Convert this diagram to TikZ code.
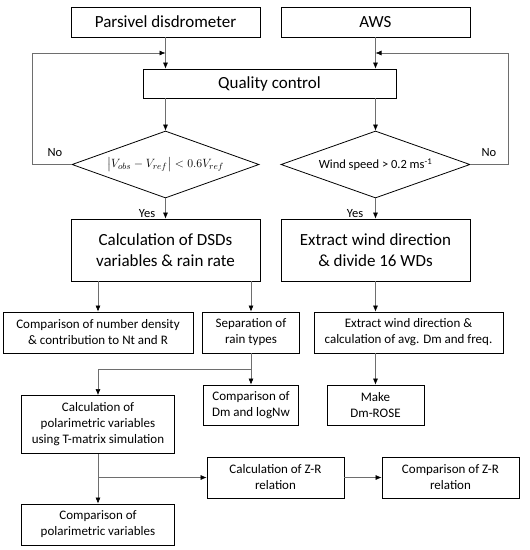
\documentclass[tikz,border=0pt]{standalone}
\usepackage{amsmath}
\usepackage{fontspec}
\setmainfont{Carlito}
\usetikzlibrary{positioning,shapes.geometric,arrows.meta}

\definecolor{linegray}{RGB}{110,110,110}

\tikzset{
	bigbox/.style={draw=black, thick, minimum width=189pt, align=center, inner sep=2pt, font=\fontsize{17}{20.5}\selectfont},
	smallbox/.style={draw=black, thick, minimum height=41pt, align=center, inner sep=3pt, font=\fontsize{13}{16}\selectfont},
	decision/.style={draw=black, thick, shape=diamond, aspect=2.8, minimum width=187pt, minimum height=67pt, inner sep=0pt},
	answer/.style={font=\fontsize{12.5}{15}\selectfont, inner sep=0pt},
	arr/.style={draw=linegray, semithick, -{Latex[black,length=6pt,width=5pt]}},
	line/.style={draw=linegray, semithick}
}

\begin{document}
\begin{tikzpicture}[x=1pt,y=-1pt]
\useasboundingbox (0,0) rectangle (530,550);

\node(pars)	[bigbox, minimum height=30pt] at (165.5,22)	{Parsivel disdrometer};
\node(aws)	[bigbox, minimum height=30pt, right of=pars, node distance=210pt]	{AWS};
\node(qc)	[bigbox, minimum width=253pt, minimum height=29pt] at (269.5,83.5)	{Quality control};

\node(dleft)	[decision, below of=pars, node distance=142.5pt]	{\fontsize{12.5}{15}\selectfont $\left|V_{obs}-V_{ref}\right|<0.6V_{ref}$};
\node(dright)	[decision, minimum width=189pt, below of=aws, node distance=142.5pt]	{\fontsize{12.5}{15}\selectfont Wind speed > 0.2 ms\textsuperscript{-1}};

\node(calc)	[bigbox, minimum height=62pt, below of=dleft, node distance=85.5pt]	{Calculation of DSDs\\variables \& rain rate};
\node(extr)	[bigbox, minimum height=62pt, below of=dright, node distance=85.5pt]	{Extract wind direction\\\& divide 16 WDs};

\node(numd)	[smallbox, minimum width=190pt] at (98,332.5)	{Comparison of number density\\\& contribution to Nt and R};
\node(sep)	[smallbox, minimum width=97pt] at (251,332.5)	{Separation of\\rain types};
\node(extr2)	[smallbox, minimum width=189pt] at (408.5,332.5)	{Extract wind direction \&\\calculation of avg. Dm and freq.};

\node(dm)	[smallbox, minimum width=95pt, minimum height=40pt, below of=sep, node distance=72.5pt]	{Comparison of\\Dm and logNw};
\node(rose)	[smallbox, minimum width=97pt, minimum height=40pt, below of=extr, node distance=155pt]	{Make\\Dm-ROSE};

\node(pol)	[smallbox, minimum width=153pt, minimum height=58pt, below of=numd, node distance=92pt]	{Calculation of\\polarimetric variables\\using T-matrix simulation};
\node(polc)	[smallbox, minimum width=153pt, below of=pol, node distance=100pt]	{Comparison of\\polarimetric variables};

\node(zr)	[smallbox, minimum width=137pt] at (275.5,477.5)	{Calculation of Z-R\\relation};
\node(zrc)	[smallbox, minimum width=137pt, right of=zr, node distance=175pt]	{Comparison of Z-R\\relation};

\node(nol)	[answer] at (55,153)	{No};
\node(nor)	[answer] at (489,153)	{No};
\node(yesl)	[answer] at (147,214)	{Yes};
\node(yesr)	[answer] at (355,214)	{Yes};

% inputs and quality control
\draw [arr] (pars.south) -- (qc.north -| pars.south) coordinate[pos=0.5] (fbl);
\draw [arr] (aws.south) -- (qc.north -| aws.south) coordinate[pos=0.5] (fbr);
\draw [arr] (qc.south -| dleft.north) -- (dleft.north);
\draw [arr] (qc.south -| dright.north) -- (dright.north);

% feedback
\draw [arr] (dleft.west) -- ++(-39,0) |- (fbl);
\draw [arr] (dright.east) -- ++(38,0) |- (fbr);

\draw [arr] (dleft.south) -- (calc.north);
\draw [arr] (dright.south) -- (extr.north);

% DSD branch
\draw [arr] (calc.south -| numd.north) -- (numd.north);
\draw [arr] (calc.south -| sep.north) -- (sep.north);
\draw [line] (sep.south) -- ++(0,16) coordinate (br);
\draw [arr] (br) -| (pol.north);
\draw [arr] (br) -- (dm.north);
\draw [arr] (pol.south) -- (polc.north);
\draw [arr] (pol.south |- zr.west) -- (zr.west);
\draw [arr] (zr.east) -- (zr.east -| zrc.west);

% wind branch
\draw [arr] (extr.south) -- (extr.south |- extr2.north);
\draw [arr] (extr2.south -| rose.north) -- (rose.north);

\end{tikzpicture}
\end{document}
